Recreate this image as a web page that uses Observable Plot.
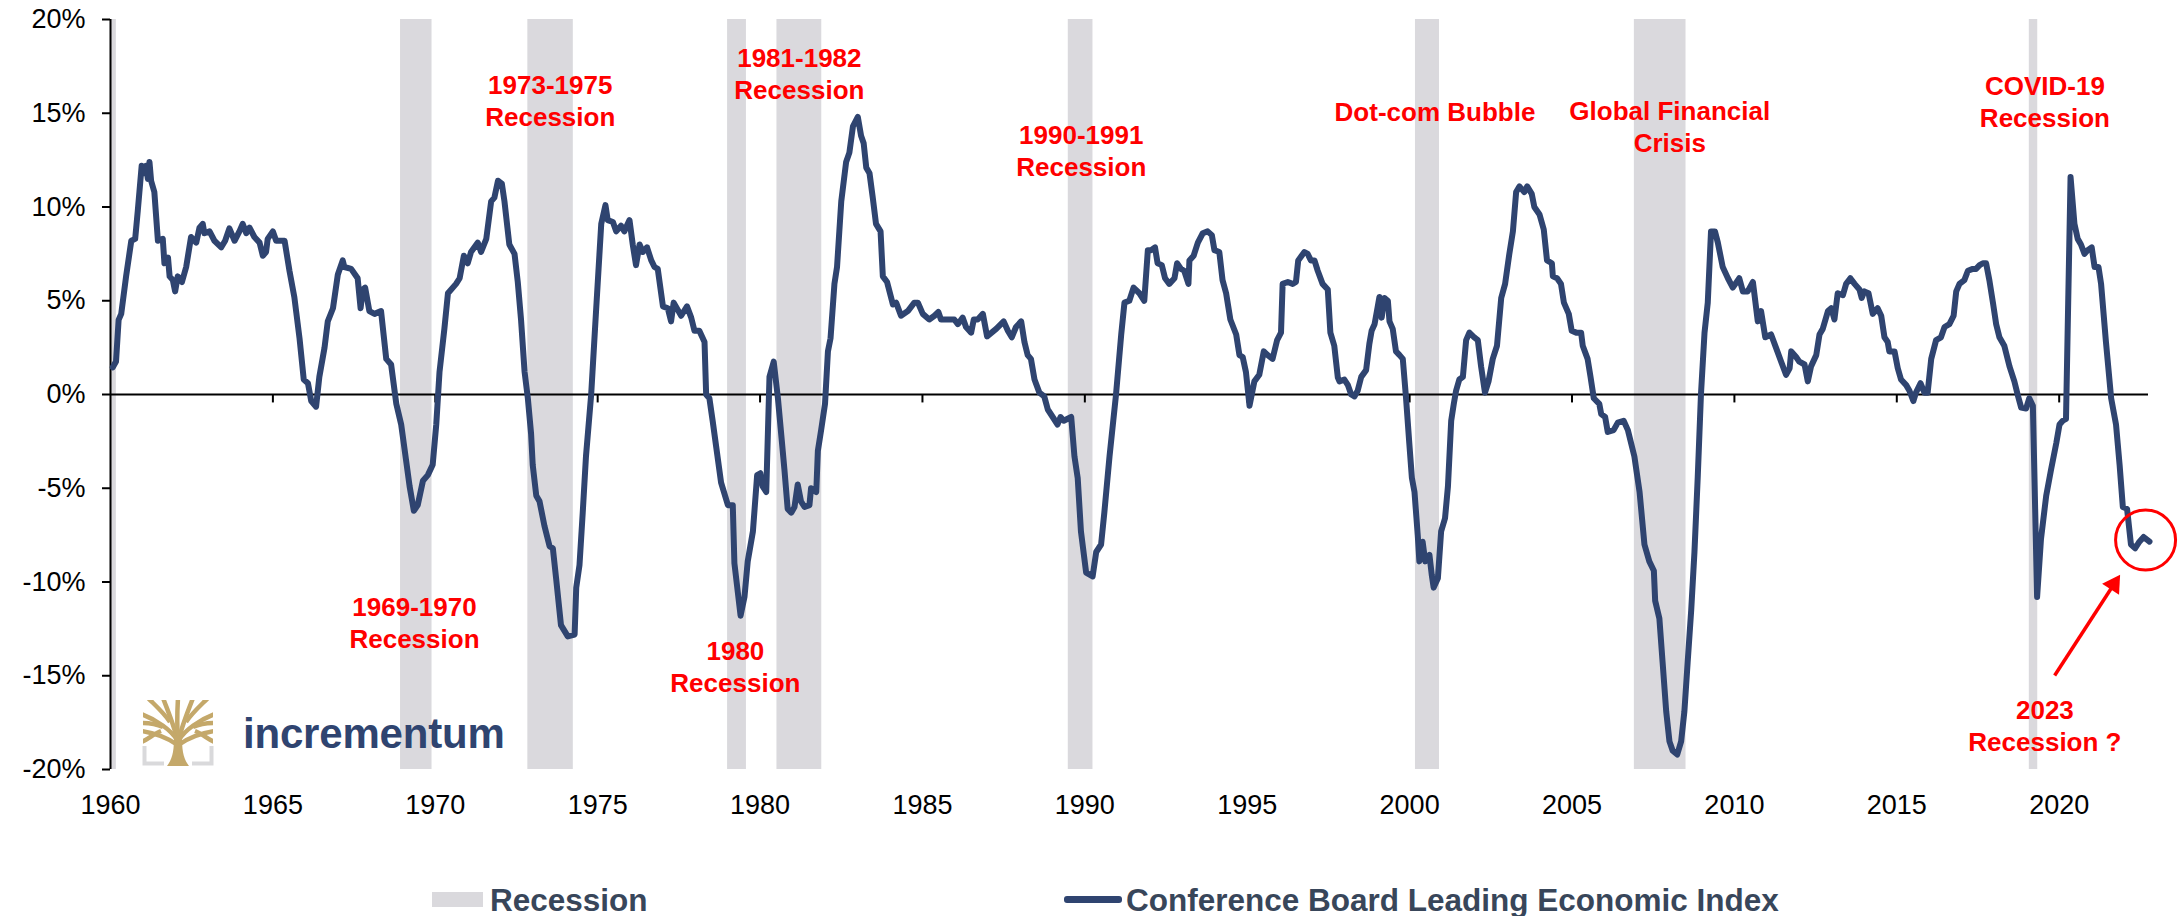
<!DOCTYPE html>
<html>
<head>
<meta charset="utf-8">
<script src="https://cdn.jsdelivr.net/npm/d3@7"></script>
<script src="https://cdn.jsdelivr.net/npm/@observablehq/plot@0.6"></script>
<style>
  html, body { margin: 0; padding: 0; background: #fff; }
  body { width: 2183px; height: 916px; overflow: hidden; position: relative; font-family: "Liberation Sans", Arial, sans-serif; }
  #chart { position: absolute; left: 0; top: 0; }
  #logo { position: absolute; left: 0; top: 0; pointer-events: none; }
  .leg { position: absolute; }
  .legtext { position: absolute; font-weight: bold; font-size: 31.5px; color: #38465a; line-height: 40px; top: 880px; white-space: nowrap; }
</style>
</head>
<body>
<div id="chart"></div>
<svg id="logo" width="2183" height="916">
  <defs><clipPath id="treeclip"><rect x="0" y="0" width="70" height="47"/></clipPath></defs>
  <g transform="translate(143,700)">
    <path d="M1.5 46 V63.5 H21 M68.5 46 V63.5 H49" fill="none" stroke="#d9d9db" stroke-width="4"/>
    <g clip-path="url(#treeclip)" fill="none" stroke="#c4a86a" stroke-width="4.5" stroke-linecap="butt">
      <path d="M35 44 C33 30 26 14 20 -2"/>
      <path d="M35 44 C37 30 44 14 50 -2"/>
      <path d="M35 44 C34 28 34 14 35 -2"/>
      <path d="M34 40 C28 30 14 20 -2 14"/>
      <path d="M36 40 C42 30 56 20 72 14"/>
      <path d="M33 44 C24 38 12 33 -2 31"/>
      <path d="M37 44 C46 38 58 33 72 31"/>
      <path d="M27 22 C21 13 13 6 5 -2"/>
      <path d="M43 22 C49 13 57 6 65 -2"/>
      <path d="M20 27 C13 24 6 23 -2 23"/>
      <path d="M50 27 C57 24 64 23 72 23"/>
      <path d="M18 31 C10 34 5 40 -2 42"/>
      <path d="M52 31 C60 34 65 40 72 42"/>
    </g>
    <path d="M24 66 C30 58 31 50 31 36 L39 36 C39 50 40 58 46 66 Z" fill="#c4a86a"/>
  </g>
  <text x="243" y="748" font-family="Liberation Sans, Arial, sans-serif" font-weight="bold" font-size="42" fill="#2f4470" letter-spacing="-0.2">incrementum</text>
</svg>
<div class="leg" style="left:432px; top:892px; width:51px; height:15px; background:#dad9dd;"></div>
<div class="legtext" style="left:490px;">Recession</div>
<div class="leg" style="left:1064px; top:896px; width:58px; height:7px; background:#2f4470; border-radius:3px;"></div>
<div class="legtext" style="left:1126px;">Conference Board Leading Economic Index</div>
<script>
// ---- data (x = year position on the chart's axis, y = % yoy) ----
const leiYears = [
1960.07,1960.17,1960.25,1960.33,1960.48,1960.64,1960.76,1960.84,1960.96,1961.05,1961.10,1961.15,1961.20,1961.25,1961.35,1961.46,1961.61,1961.66,1961.77,1961.82,1961.92,1961.99,
1962.07,1962.20,1962.33,1962.48,1962.64,1962.74,1962.84,1962.89,1963.05,1963.20,1963.41,1963.53,1963.66,1963.82,1963.97,1964.07,1964.18,1964.28,1964.43,1964.59,1964.69,1964.79,1964.84,
1965.00,1965.10,1965.36,1965.51,1965.66,1965.82,1965.95,1966.08,1966.18,1966.33,1966.43,1966.59,1966.69,1966.85,1967.00,1967.15,1967.20,1967.41,1967.61,1967.70,1967.77,1967.84,1967.97,
1968.13,1968.33,1968.49,1968.64,1968.80,1968.95,1969.10,1969.21,1969.34,1969.46,1969.62,1969.77,1969.92,1970.03,1970.13,1970.28,1970.39,1970.64,1970.75,1970.88,1971.00,1971.10,1971.31,
1971.41,1971.57,1971.72,1971.82,1971.93,1972.05,1972.13,1972.28,1972.44,1972.54,1972.64,1972.75,1972.85,1972.95,1973.00,1973.11,1973.21,1973.36,1973.52,1973.62,1973.72,1973.87,1974.08,
1974.29,1974.34,1974.44,1974.54,1974.64,1974.80,1974.95,1975.11,1975.24,1975.31,1975.47,1975.57,1975.72,1975.82,1975.98,1976.08,1976.18,1976.29,1976.39,1976.52,1976.65,1976.75,1976.85,
1977.01,1977.16,1977.26,1977.34,1977.57,1977.75,1977.88,1977.98,1978.13,1978.29,1978.34,1978.44,1978.54,1978.65,1978.80,1979.01,1979.16,1979.21,1979.40,1979.52,1979.62,1979.78,1979.91,
1980.01,1980.08,1980.19,1980.29,1980.42,1980.55,1980.65,1980.75,1980.85,1980.96,1981.06,1981.16,1981.26,1981.37,1981.52,1981.57,1981.73,1981.78,1981.88,1982.00,1982.09,1982.17,1982.29,
1982.37,1982.50,1982.65,1982.75,1982.86,1983.01,1983.11,1983.19,1983.27,1983.37,1983.47,1983.57,1983.71,1983.78,1983.91,1984.09,1984.19,1984.34,1984.55,1984.75,1984.86,1985.01,1985.21,
1985.37,1985.49,1985.57,1985.98,1986.09,1986.24,1986.34,1986.50,1986.58,1986.70,1986.86,1986.99,1987.27,1987.50,1987.63,1987.75,1987.88,1988.04,1988.14,1988.24,1988.34,1988.45,1988.60,
1988.75,1988.86,1989.01,1989.16,1989.25,1989.35,1989.58,1989.68,1989.78,1989.88,1990.04,1990.24,1990.35,1990.50,1990.60,1990.76,1990.96,1991.12,1991.22,1991.37,1991.50,1991.68,1991.83,
1991.94,1992.04,1992.16,1992.24,1992.37,1992.47,1992.60,1992.76,1992.84,1992.96,1993.06,1993.19,1993.22,1993.35,1993.48,1993.63,1993.78,1993.91,1993.99,1994.14,1994.24,1994.35,1994.48,
1994.66,1994.76,1994.86,1994.96,1995.07,1995.22,1995.37,1995.51,1995.63,1995.78,1995.92,1996.04,1996.09,1996.25,1996.40,1996.50,1996.57,1996.76,1996.86,1996.96,1997.07,1997.17,1997.32,
1997.48,1997.56,1997.68,1997.79,1997.84,1997.99,1998.10,1998.20,1998.30,1998.40,1998.51,1998.66,1998.76,1998.83,1998.92,1999.02,1999.07,1999.14,1999.22,1999.33,1999.38,1999.48,1999.58,
1999.69,1999.79,1999.89,1999.99,2000.07,2000.15,2000.25,2000.30,2000.40,2000.48,2000.61,2000.68,2000.74,2000.87,2000.97,2001.09,2001.18,2001.28,2001.36,2001.43,2001.53,2001.64,2001.74,
2001.84,2001.99,2002.10,2002.20,2002.32,2002.43,2002.56,2002.69,2002.82,2002.94,2003.07,2003.18,2003.28,2003.38,2003.53,2003.62,2003.76,2003.84,2004.00,2004.13,2004.23,2004.38,2004.41,
2004.54,2004.66,2004.75,2004.90,2004.99,2005.13,2005.28,2005.33,2005.48,2005.57,2005.67,2005.84,2005.90,2006.02,2006.10,2006.28,2006.41,2006.59,2006.72,2006.92,2007.08,2007.23,2007.38,
2007.52,2007.56,2007.69,2007.79,2007.90,2008.00,2008.10,2008.24,2008.36,2008.46,2008.56,2008.67,2008.77,2008.87,2008.97,2009.08,2009.18,2009.28,2009.40,2009.49,2009.64,2009.80,2009.95,
2010.15,2010.26,2010.41,2010.57,2010.72,2010.82,2010.95,2011.13,2011.28,2011.44,2011.59,2011.70,2011.75,2011.90,2012.00,2012.16,2012.26,2012.36,2012.52,2012.62,2012.72,2012.88,2012.98,
2013.08,2013.18,2013.34,2013.44,2013.57,2013.70,2013.85,2013.92,2014.00,2014.13,2014.26,2014.41,2014.52,2014.62,2014.72,2014.77,2014.93,2015.03,2015.13,2015.29,2015.39,2015.51,2015.59,
2015.73,2015.85,2015.95,2016.06,2016.21,2016.36,2016.47,2016.62,2016.75,2016.83,2016.93,2017.08,2017.19,2017.34,2017.44,2017.55,2017.65,2017.75,2017.85,2017.96,2018.06,2018.16,2018.31,
2018.47,2018.62,2018.72,2018.83,2018.98,2019.08,2019.19,2019.32,2019.44,2019.60,2019.75,2019.91,2020.01,2020.11,2020.21,2020.35,2020.47,2020.57,2020.67,2020.78,2020.88,2021.00,2021.09,
2021.21,2021.29,2021.44,2021.60,2021.75,2021.86,2021.96,2022.09,2022.21,2022.34,2022.47,2022.60,2022.78
];
const leiValues = [
1.45,1.76,3.98,4.3,6.3,8.2,8.3,9.8,12.2,11.8,12.2,11.5,12.4,11.4,10.8,8.2,8.3,7.0,7.3,6.3,6.1,5.5,
6.3,6.0,6.8,8.4,8.1,8.9,9.1,8.6,8.7,8.2,7.85,8.2,8.86,8.2,8.7,9.1,8.6,8.9,8.4,8.1,7.4,7.6,8.3,
8.7,8.2,8.2,6.6,5.2,3.0,0.8,0.6,-0.35,-0.65,0.94,2.5,3.9,4.6,6.4,7.15,6.8,6.7,6.2,4.6,5.6,5.7,4.45,
4.3,4.45,1.9,1.6,-0.5,-1.6,-3.5,-4.9,-6.2,-5.9,-4.6,-4.3,-3.75,-1.6,1.2,3.5,5.4,5.9,6.2,7.4,7.0,7.6,8.1,
7.6,8.3,10.3,10.5,11.4,11.25,10.3,8.0,7.5,6.0,4.0,1.2,-0.2,-2.1,-3.75,-5.4,-5.7,-7.0,-8.1,-8.2,-9.8,-12.3,-12.9,
-12.8,-10.3,-9.1,-6.3,-3.3,0,4.45,9.1,10.1,9.3,9.2,8.7,9.0,8.7,9.3,8.0,6.9,8.0,7.6,7.85,7.15,6.8,6.7,
4.7,4.6,3.9,4.9,4.2,4.7,4.1,3.4,3.4,2.8,0.0,-0.2,-1.4,-2.8,-4.7,-5.9,-5.9,-9.0,-11.8,-10.8,-8.9,-7.3,-4.3,
-4.2,-4.9,-5.2,0.94,1.75,-0.2,-2.1,-4.0,-6.1,-6.3,-6.0,-4.8,-5.7,-6.0,-5.9,-5.0,-5.2,-3.0,-1.9,-0.5,2.3,3.0,5.9,
6.8,10.3,12.4,12.9,14.3,14.8,13.8,13.4,12.1,11.8,10.5,9.1,8.7,6.3,6.0,4.8,4.9,4.2,4.45,4.9,4.9,4.3,4.0,
4.2,4.4,4.0,4.0,3.75,4.1,3.6,3.3,4.0,4.0,4.3,3.1,3.5,3.9,3.4,3.05,3.6,3.9,2.8,2.1,1.9,0.8,0.1,
-0.1,-0.8,-1.2,-1.6,-1.2,-1.4,-1.2,-3.3,-4.45,-7.3,-9.5,-9.7,-8.4,-8.0,-6.3,-3.3,0,3.2,4.9,5.0,5.7,5.4,5.0,
7.7,7.7,7.85,7.0,6.9,6.2,5.9,6.2,7.0,6.7,6.6,5.9,7.15,7.4,8.1,8.6,8.7,8.5,7.7,7.6,6.1,5.4,4.0,
3.2,2.1,2.0,1.2,-0.6,0.7,1.05,2.3,2.1,1.9,2.9,3.3,5.9,6.0,5.9,6.0,7.15,7.6,7.5,7.15,7.15,6.6,5.9,
5.6,3.3,2.6,0.9,0.7,0.8,0.5,0.0,-0.1,0.2,0.94,1.3,2.7,3.4,3.75,4.7,5.2,4.1,5.15,5.0,3.9,3.5,2.3,
2.1,1.9,-0.2,-2.6,-4.45,-5.2,-7.5,-8.9,-7.85,-8.9,-8.55,-9.6,-10.3,-9.8,-7.3,-6.6,-4.9,-1.4,-0.5,0.2,0.8,0.94,2.9,
3.3,3.05,2.9,1.5,0.1,0.7,1.9,2.6,5.15,5.9,7.5,8.7,10.8,11.1,10.8,11.1,10.7,10.0,9.6,8.8,7.15,7.0,6.3,
6.2,5.9,4.9,4.3,3.4,3.3,3.3,2.6,1.9,0.94,-0.2,-0.5,-1.05,-1.2,-2.0,-1.9,-1.5,-1.4,-1.9,-3.3,-5.2,-8.0,-8.9,
-9.4,-11.0,-11.95,-14.3,-16.9,-18.5,-19.0,-19.2,-18.5,-16.9,-14.3,-11.5,-8.4,-4.45,0,3.3,4.9,8.7,8.7,8.1,6.8,6.2,5.7,
6.2,5.5,5.5,6.0,3.9,4.45,3.05,3.2,2.5,1.75,1.05,1.4,2.3,2.0,1.75,1.6,0.7,1.5,2.1,3.2,3.5,4.45,4.6,
4.0,5.4,5.3,5.9,6.2,5.9,5.6,5.15,5.5,5.4,4.3,4.6,4.2,3.05,2.8,2.3,2.3,1.4,0.8,0.5,0.2,-0.35,0.1,
0.6,0.1,0.1,1.9,2.9,3.05,3.6,3.75,4.2,5.5,5.9,6.1,6.6,6.7,6.7,6.9,7.0,7.0,6.1,4.9,3.75,3.05,2.6,
1.5,0.7,0,-0.7,-0.75,-0.2,-0.6,-10.8,-7.7,-5.4,-4.0,-2.6,-1.6,-1.4,-1.3,11.6,9.1,8.3,8.0,7.5,7.7,7.85,6.8,
6.8,5.9,2.8,-0.2,-1.6,-3.75,-6.0,-6.1,-8.0,-8.2,-7.85,-7.6,-7.85
];
const recessionStart = [1960.02, 1968.93, 1972.85, 1979.00, 1980.52, 1989.49, 2000.18, 2006.92, 2019.08];
const recessionEnd   = [1960.18, 1969.90, 1974.25, 1979.58, 1981.90, 1990.25, 2000.92, 2008.51, 2019.34];
const xTicks = [1960, 1965, 1970, 1975, 1980, 1985, 1990, 1995, 2000, 2005, 2010, 2015, 2020];
const yTicks = [-20, -15, -10, -5, 0, 5, 10, 15, 20];
const annoLabels = ["1969-1970\nRecession", "1973-1975\nRecession", "1980\nRecession", "1981-1982\nRecession", "1990-1991\nRecession", "Dot-com Bubble", "Global Financial\nCrisis", "COVID-19\nRecession", "2023\nRecession ?"];
const annoX = [1969.36, 1973.54, 1979.24, 1981.21, 1989.89, 2000.78, 2008.01, 2019.56, 2019.56];
const annoY = [-12.13, 15.71, -14.45, 17.15, 13.04, 15.15, 14.33, 15.65, -17.6];
const circleAt = {x: 2022.66, y: -7.76};
const arrowFrom = {x: 2019.86, y: -14.99};
const arrowTo = {x: 2021.68, y: -10.13};

// ---- build tables ----
const series = leiYears.map((x, i) => ({x, y: leiValues[i]}));
const recessions = recessionStart.map((s, i) => ({start: s, end: recessionEnd[i]}));
const annotations = annoLabels.map((t, i) => ({text: t, x: annoX[i], y: annoY[i]}));

const navy = "#2f4470";
const red = "#ff0000";

const chart = Plot.plot({
  width: 2183,
  height: 860,
  marginTop: 19,
  marginBottom: 91,
  marginLeft: 110,
  marginRight: 35,
  style: {fontFamily: "Liberation Sans, Arial, sans-serif", background: "transparent", color: "#000", overflow: "visible"},
  x: {domain: [1960, 2022.75]},
  y: {domain: [-20, 20]},
  marks: [
    Plot.rect(recessions, {x1: "start", x2: "end", fill: "#dad9dd"}),
    Plot.ruleY([0], {stroke: "#000", strokeWidth: 2}),
    Plot.ruleX(xTicks.slice(1), {x: d => d, y1: () => 0, y2: () => -0.45, stroke: "#000", strokeWidth: 2}),
    Plot.ruleX([1960], {stroke: "#000", strokeWidth: 2}),
    Plot.axisY({ticks: yTicks, tickFormat: d => d + "%", tickSize: 8, tickPadding: 17, fontSize: 27, strokeWidth: 2, label: null}),
    Plot.axisX({ticks: xTicks, tickFormat: d => String(d), tickSize: 0, tickPadding: 25, fontSize: 27, label: null}),
    Plot.line(series, {x: "x", y: "y", stroke: navy, strokeWidth: 6, strokeLinejoin: "round", strokeLinecap: "round"}),
    Plot.text(annotations, {x: "x", y: "y", text: "text", fill: red, fontSize: 26, fontWeight: "bold", lineHeight: 1.23, textAnchor: "middle"}),
    Plot.dot([circleAt], {x: "x", y: "y", r: 30, stroke: red, strokeWidth: 3, fill: "none"}),
    Plot.link([{x1: arrowFrom.x, y1: arrowFrom.y, x2: arrowTo.x, y2: arrowTo.y}], {x1: "x1", y1: "y1", x2: "x2", y2: "y2", stroke: red, strokeWidth: 3.5}),
    Plot.dot([arrowTo], {x: "x", y: "y", symbol: "triangle", r: 7.5, fill: red, stroke: "none", rotate: 33})
  ]
});
document.getElementById("chart").appendChild(chart);
</script>
</body>
</html>
